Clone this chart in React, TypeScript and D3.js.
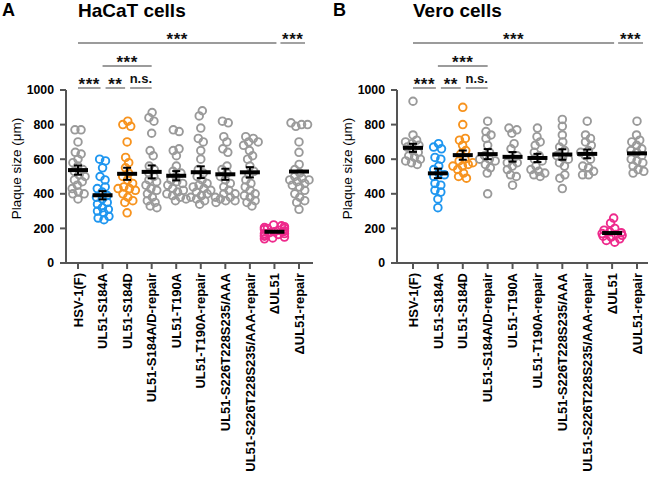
import React from "react";
import * as d3 from "d3";

// categories shared by both panels
const categories = [
  "HSV-1(F)",
  "UL51-S184A",
  "UL51-S184D",
  "UL51-S184A/D-repair",
  "UL51-T190A",
  "UL51-T190A-repair",
  "UL51-S226T228S235/AAA",
  "UL51-S226T228S235/AAA-repair",
  "\u0394UL51",
  "\u0394UL51-repair",
];
const colors = ["#9a9a9a", "#1e96f0", "#f7931e", "#9a9a9a", "#9a9a9a", "#9a9a9a", "#9a9a9a", "#9a9a9a", "#ee2a8c", "#9a9a9a"];
const showErr = [true, true, true, true, true, true, true, true, false, false];
const yTicks = [0, 200, 400, 600, 800, 1000];

// plaque sizes (um), HaCaT cells
const hacat: number[][] = [
  [770, 770, 700, 640, 630, 600, 580, 560, 540, 530, 510, 500, 480, 470, 450, 430, 410, 400, 400, 370],
  [600, 590, 550, 500, 480, 440, 430, 410, 390, 380, 370, 350, 340, 320, 310, 300, 290, 270, 260, 250],
  [820, 800, 790, 430, 700, 610, 580, 550, 520, 500, 480, 460, 440, 430, 420, 400, 380, 360, 350, 290],
  [870, 840, 820, 480, 750, 650, 620, 560, 540, 520, 500, 470, 450, 430, 420, 400, 380, 350, 330, 360, 320],
  [770, 760, 660, 650, 620, 560, 530, 520, 500, 480, 470, 460, 450, 430, 420, 400, 390, 370, 360, 380, 410],
  [880, 850, 780, 720, 700, 650, 600, 540, 520, 500, 480, 460, 440, 420, 400, 380, 340, 450, 430, 410, 390, 370, 360],
  [820, 810, 730, 700, 660, 640, 560, 540, 520, 500, 480, 460, 440, 420, 400, 380, 370, 360, 350, 360, 380, 400],
  [730, 720, 700, 680, 650, 620, 600, 560, 530, 510, 480, 460, 440, 420, 400, 390, 380, 360, 350, 330, 700],
  [220, 215, 210, 205, 200, 200, 195, 190, 185, 180, 180, 175, 170, 170, 165, 160, 155, 150, 145, 140],
  [810, 800, 800, 790, 700, 640, 570, 540, 520, 500, 490, 480, 480, 470, 460, 450, 440, 420, 400, 380, 360, 350, 310],
];

// plaque sizes (um), Vero cells
const vero: number[][] = [
  [935, 740, 710, 700, 690, 680, 670, 650, 640, 620, 610, 600, 590, 580, 570],
  [690, 670, 660, 610, 600, 560, 540, 520, 510, 500, 460, 450, 420, 410, 370, 320],
  [900, 800, 720, 710, 680, 650, 630, 600, 580, 560, 540, 520, 500, 490, 570, 590, 560],
  [820, 760, 740, 720, 680, 640, 620, 600, 590, 570, 550, 520, 400, 600],
  [780, 770, 750, 690, 660, 620, 600, 580, 560, 540, 510, 500, 450, 580],
  [780, 730, 700, 680, 640, 620, 600, 590, 560, 540, 530, 520, 510, 500],
  [830, 790, 740, 700, 670, 650, 620, 610, 600, 580, 560, 510, 490, 430],
  [820, 740, 720, 700, 680, 650, 640, 620, 600, 560, 550, 530, 510, 510],
  [260, 230, 200, 190, 180, 175, 170, 165, 160, 155, 150, 140, 130, 120],
  [820, 740, 710, 700, 680, 660, 650, 640, 620, 600, 590, 580, 560, 540, 530, 520],
];

// significance brackets: [from index, to index, label, tier]
const brackets: [number, number, string, number][] = [
  [0, 8, "***", 0],
  [8, 9, "***", 0],
  [1, 3, "***", 1],
  [0, 1, "***", 2],
  [1, 2, "**", 2],
  [2, 3, "n.s.", 2],
];
const tierY = [43, 66, 88];

const font = "'Liberation Sans', Arial, Helvetica, sans-serif";
const R = 3.8;

interface PanelProps {
  letter: string;
  title: string;
  data: number[][];
  ox: number;
  xLeft: number;
  xRight: number;
  axisEnd: number;
}

const Panel: React.FC<PanelProps> = ({ letter, title, data, ox, xLeft, xRight, axisEnd }) => {
  const y = d3.scaleLinear().domain([0, 1000]).range([263, 90]);
  const x = d3.scalePoint<string>().domain(categories).range([xLeft, xRight]);
  const axisX = ox + 66;

  // beeswarm per column: force simulation with y fixed, then clamp to the column width
  const nodes: any[] = [];
  data.forEach((vals, i) => {
    const cx = x(categories[i])!;
    const col = vals.map((v, k) => ({ ci: i, x: cx + ((k % 3) - 1) * 2, fy: y(v), y: y(v) }));
    const sim = d3
      .forceSimulation(col)
      .force("x", d3.forceX(cx).strength(0.25))
      .force("c", d3.forceCollide(R * 0.8))
      .stop();
    for (let t = 0; t < 150; t++) sim.tick();
    col.forEach((n: any) => {
      n.x = Math.max(cx - 10, Math.min(cx + 10, n.x));
      nodes.push(n);
    });
  });

  return (
    <g>
      <text x={ox + 2} y={16} fontFamily={font} fontWeight="bold" fontSize={18}>{letter}</text>
      <text x={xLeft} y={17} fontFamily={font} fontWeight="bold" fontSize={19}>{title}</text>

      {/* significance */}
      {brackets.map(([a, b, lab, t], k) => {
        const x1 = x(categories[a])! + (a === 8 ? 6 : a > 0 && t === 2 ? 3 : 0);
        const x2 = x(categories[b])! + (a === 8 ? 6 : b === 8 ? 2 : t === 2 && b < 3 ? -2 : 0);
        const ly = tierY[t];
        const stars = lab !== "n.s.";
        return (
          <g key={k}>
            <line x1={x1} x2={x2} y1={ly} y2={ly} stroke="#7a7a7a" strokeWidth={1.4} />
            <text
              x={(x1 + x2) / 2}
              y={stars ? ly + 2 : ly - 5}
              textAnchor="middle"
              fontFamily={font}
              fontWeight="bold"
              fontSize={stars ? 17 : 13}
              letterSpacing={stars ? 0.5 : 0}
              fill="#111"
            >
              {lab}
            </text>
          </g>
        );
      })}

      {/* y axis */}
      <line x1={axisX} x2={axisX} y1={y(1000)} y2={y(0) + 1} stroke="#555" strokeWidth={2} />
      {yTicks.map((t) => (
        <g key={t}>
          <line x1={axisX - 6} x2={axisX} y1={y(t)} y2={y(t)} stroke="#555" strokeWidth={2} />
          <text x={axisX - 12} y={y(t)} dy="0.36em" textAnchor="end" fontFamily={font} fontWeight="bold" fontSize={12.3}>
            {t}
          </text>
        </g>
      ))}
      <text
        transform={`translate(${ox + 21},${(y(0) + y(1000)) / 2 - 8}) rotate(-90)`}
        textAnchor="middle"
        fontFamily={font}
        fontSize={13.5}
      >
        Plaque size (μm)
      </text>

      {/* x axis */}
      <line x1={axisX} x2={axisEnd} y1={y(0)} y2={y(0)} stroke="#555" strokeWidth={2} />
      {categories.map((c) => (
        <g key={c}>
          <line x1={x(c)} x2={x(c)} y1={y(0)} y2={y(0) + 6} stroke="#555" strokeWidth={2} />
          <text
            transform={`translate(${x(c)},${y(0) + 10}) rotate(-90)`}
            dy="0.36em"
            textAnchor="end"
            fontFamily={font}
            fontWeight="bold"
            fontSize={13}
          >
            {c}
          </text>
        </g>
      ))}

      {/* points */}
      {nodes.map((n, i) => (
        <circle key={i} cx={n.x} cy={n.y} r={R} fill="none" stroke={colors[n.ci]} strokeWidth={1.9} />
      ))}

      {/* mean +/- SEM */}
      {data.map((vals, i) => {
        const m = d3.mean(vals)!;
        const sem = d3.deviation(vals)! / Math.sqrt(vals.length);
        const cx = x(categories[i])!;
        return (
          <g key={i}>
            <line x1={cx - 10} x2={cx + 10} y1={y(m)} y2={y(m)} stroke="#000" strokeWidth={4} />
            {showErr[i] && (
              <g stroke="#000" strokeWidth={2}>
                <line x1={cx} x2={cx} y1={y(m + sem)} y2={y(m - sem)} />
                <line x1={cx - 4} x2={cx + 4} y1={y(m + sem)} y2={y(m + sem)} />
                <line x1={cx - 4} x2={cx + 4} y1={y(m - sem)} y2={y(m - sem)} />
              </g>
            )}
          </g>
        );
      })}
    </g>
  );
};

export default function App() {
  return (
    <svg width={650} height={483} style={{ position: "absolute", left: 0, top: 0, background: "#fff" }}>
      <Panel letter="A" title="HaCaT cells" data={hacat} ox={0} xLeft={78} xRight={299} axisEnd={313} />
      <Panel letter="B" title="Vero cells" data={vero} ox={331} xLeft={413} xRight={637} axisEnd={648} />
    </svg>
  );
}
